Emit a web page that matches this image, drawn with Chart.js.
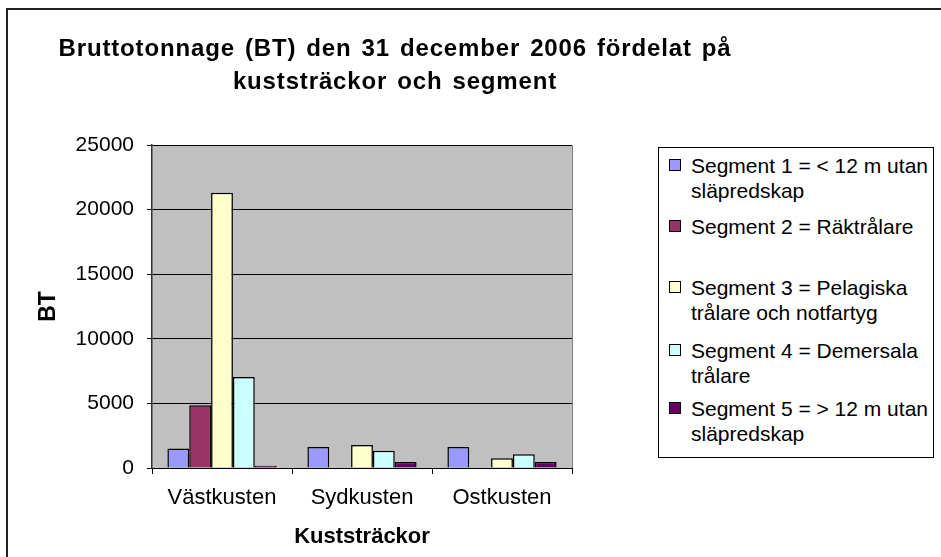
<!DOCTYPE html>
<html>
<head>
<meta charset="utf-8">
<script src="https://cdn.jsdelivr.net/npm/chart.js@4.4.1/dist/chart.umd.min.js"></script>
<style>
  html, body { margin: 0; padding: 0; background: #fff; overflow: hidden; }
  body { width: 941px; height: 557px; position: relative; font-family: "Liberation Sans", Arial, sans-serif; }
  #frame { position: absolute; left: 6px; top: 8px; width: 1000px; height: 1000px;
           border-left: 2px solid #222; border-top: 2px solid #222; }
  #chart { position: absolute; left: 0; top: 0; }
  #title { position: absolute; left: 0; top: 31px; width: 790px; text-align: center;
           font-weight: bold; font-size: 24px; line-height: 33px; letter-spacing: 0.85px;
           word-spacing: 2.5px; color: #000; }
  #legend { position: absolute; left: 658px; top: 147px; width: 276px; height: 311px;
            border: 1px solid #000; box-sizing: border-box; background: #fff; }
  .item { position: absolute; left: 0; }
  .box { position: absolute; left: 10px; top: 6px; width: 12px; height: 12px;
         border: 1px solid #000; box-sizing: border-box; }
  .txt { position: absolute; left: 32px; font-size: 21px; line-height: 25px; white-space: nowrap; color: #000; }
</style>
</head>
<body>
<div id="frame"></div>
<canvas id="chart" width="941" height="557"></canvas>
<div id="title">Bruttotonnage (BT) den 31 december 2006 fördelat på<br>kuststräckor och segment</div>
<div id="legend"></div>
<script>
const categories = ['Västkusten', 'Sydkusten', 'Ostkusten'];

const segment1 = [1500, 1630, 1630];
const segment2 = [4850, null, null];
const segment3 = [21300, 1780, 750];
const segment4 = [7050, 1340, 1060];
const segment5 = [180, 465, 465];

const seriesLabels = [
  ['Segment 1 = < 12 m utan', 'släpredskap'],
  ['Segment 2 = Räktrålare'],
  ['Segment 3 = Pelagiska', 'trålare och notfartyg'],
  ['Segment 4 = Demersala', 'trålare'],
  ['Segment 5 = > 12 m utan', 'släpredskap']
];
const seriesColors = ['#9999FF', '#993366', '#FFFFCC', '#CCFFFF', '#660066'];
const yTicks = [0, 5000, 10000, 15000, 20000, 25000];

const seriesData = [segment1, segment2, segment3, segment4, segment5];

const FONT = '"Liberation Sans", Arial, sans-serif';

// grey plot area like the old Excel charts
const plotBackground = {
  id: 'plotBackground',
  beforeDraw(chart) {
    const { ctx, chartArea: a } = chart;
    ctx.save();
    ctx.fillStyle = '#C0C0C0';
    ctx.fillRect(a.left, a.top, a.right - a.left, a.bottom - a.top);
    ctx.strokeStyle = '#808080';
    ctx.lineWidth = 1;
    ctx.beginPath();
    ctx.moveTo(a.left, a.top + 0.5);
    ctx.lineTo(a.right + 0.5, a.top + 0.5);
    ctx.lineTo(a.right + 0.5, a.bottom);
    ctx.stroke();
    ctx.restore();
  }
};

new Chart(document.getElementById('chart'), {
  type: 'bar',
  data: {
    labels: categories,
    datasets: seriesData.map((d, i) => ({
      label: seriesLabels[i].join(' '),
      data: d,
      backgroundColor: seriesColors[i],
      borderColor: '#000',
      borderWidth: 1.5,
      categoryPercentage: 0.78,
      barPercentage: 1
    }))
  },
  options: {
    responsive: false,
    animation: false,
    devicePixelRatio: 1,
    layout: { padding: { top: 145, right: 369, bottom: 0, left: 0 } },
    plugins: {
      legend: { display: false },
      title: { display: false },
      tooltip: { enabled: false }
    },
    scales: {
      x: {
        offset: true,
        afterFit(scale) { scale.height = 89; },
        grid: { offset: true, drawOnChartArea: false, drawTicks: true, tickLength: 6, color: '#000' },
        border: { display: true, color: '#000', width: 1 },
        ticks: { color: '#000', padding: 11, font: { family: FONT, size: 22 } },
        title: {
          display: true, text: 'Kuststräckor', color: '#000',
          font: { family: FONT, size: 22, weight: 'bold' },
          padding: { top: 0, bottom: 7 }
        }
      },
      y: {
        min: 0,
        max: 25000,
        afterFit(scale) { scale.width = 152; },
        afterBuildTicks(scale) { scale.ticks = yTicks.map(v => ({ value: v })); },
        grid: { color: '#000', lineWidth: 1, drawTicks: true, tickLength: 5 },
        border: { display: true, color: '#333', width: 1.5 },
        ticks: {
          color: '#000', padding: 13, font: { family: FONT, size: 21 },
          callback: v => String(v)
        },
        title: {
          display: true, text: 'BT', color: '#000',
          font: { family: FONT, size: 23, weight: 'bold' },
          padding: { top: 35, bottom: 0 }
        }
      }
    }
  },
  plugins: [plotBackground]
});

// legend box, laid out like the Excel one
const legendRowTops = [5, 66, 127, 190, 248];
const legend = document.getElementById('legend');
seriesLabels.forEach((lines, i) => {
  const item = document.createElement('div');
  item.className = 'item';
  item.style.top = legendRowTops[i] + 'px';
  const box = document.createElement('div');
  box.className = 'box';
  box.style.background = seriesColors[i];
  const txt = document.createElement('div');
  txt.className = 'txt';
  txt.innerHTML = lines.join('<br>');
  item.appendChild(box);
  item.appendChild(txt);
  legend.appendChild(item);
});
</script>
</body>
</html>
